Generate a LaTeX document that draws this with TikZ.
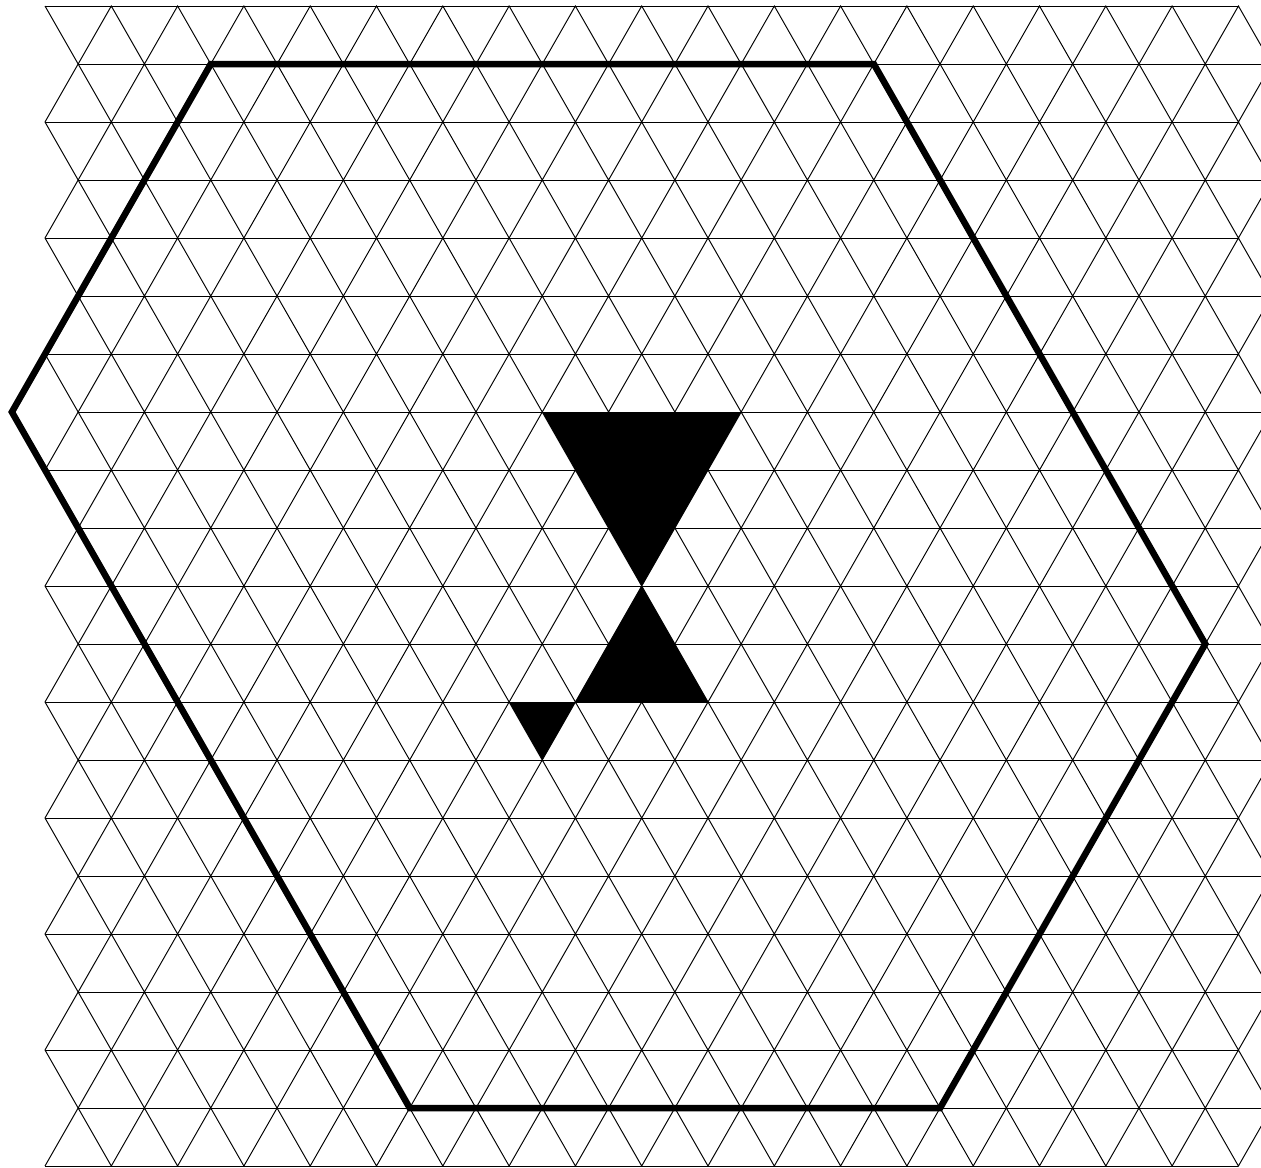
\documentclass[tikz,border=0pt]{standalone}
\begin{document}
\begin{tikzpicture}[x=0.02cm,y=-0.02cm,
  gridline/.style={line width=0.55pt,black},
  hexline/.style={line width=3.7pt,line join=miter,black},
  blackface/.style={fill=black}]
\useasboundingbox (0,0) rectangle (1261,1167);
\clip (0,0) rectangle (1261,1167);
% filled triangles
\coordinate (a1) at (542.3,412);
\coordinate (a2) at (741.2,412);
\coordinate (a3) at (641.7,586);
\coordinate (b1) at (575.4,702);
\coordinate (b2) at (708.0,702);
\coordinate (c1) at (509.1,702);
\coordinate (c2) at (542.3,760);
\fill[blackface] (a1) -- (a2) -- (a3) -- cycle;
\fill[blackface] (a3) -- (b2) -- (b1) -- cycle;
\fill[blackface] (c1) -- (b1) -- (c2) -- cycle;
% horizontal grid lines
\foreach \r in {0,2,...,20}
  \draw[gridline] (45,{6+58*\r}) -- (1238.4,{6+58*\r});
\foreach \r in {1,3,...,19}
  \draw[gridline] (78.15,{6+58*\r}) -- (1271.6,{6+58*\r});
% zigzag diagonals between rows
\foreach \r in {0,...,19}{
  \pgfmathsetmacro\ya{6+58*(\r+mod(\r,2))}
  \pgfmathsetmacro\yb{6+58*(\r+1-mod(\r,2))}
  \draw[gridline,line join=miter] (45,\ya)
    \foreach \k in {0,...,17}{ -- ({78.15+66.3*\k},\yb) -- ({111.3+66.3*\k},\ya) }
    -- (1271.6,\yb);
}
% hexagon
\coordinate (h1) at (210.8,64);
\coordinate (h2) at (873.8,64);
\coordinate (h3) at (1205.3,644);
\coordinate (h4) at (940.1,1108);
\coordinate (h5) at (409.7,1108);
\coordinate (h6) at (11.9,412);
\draw[hexline] (h1) -- (h2) -- (h3) -- (h4) -- (h5) -- (h6) -- cycle;
\end{tikzpicture}
\end{document}
